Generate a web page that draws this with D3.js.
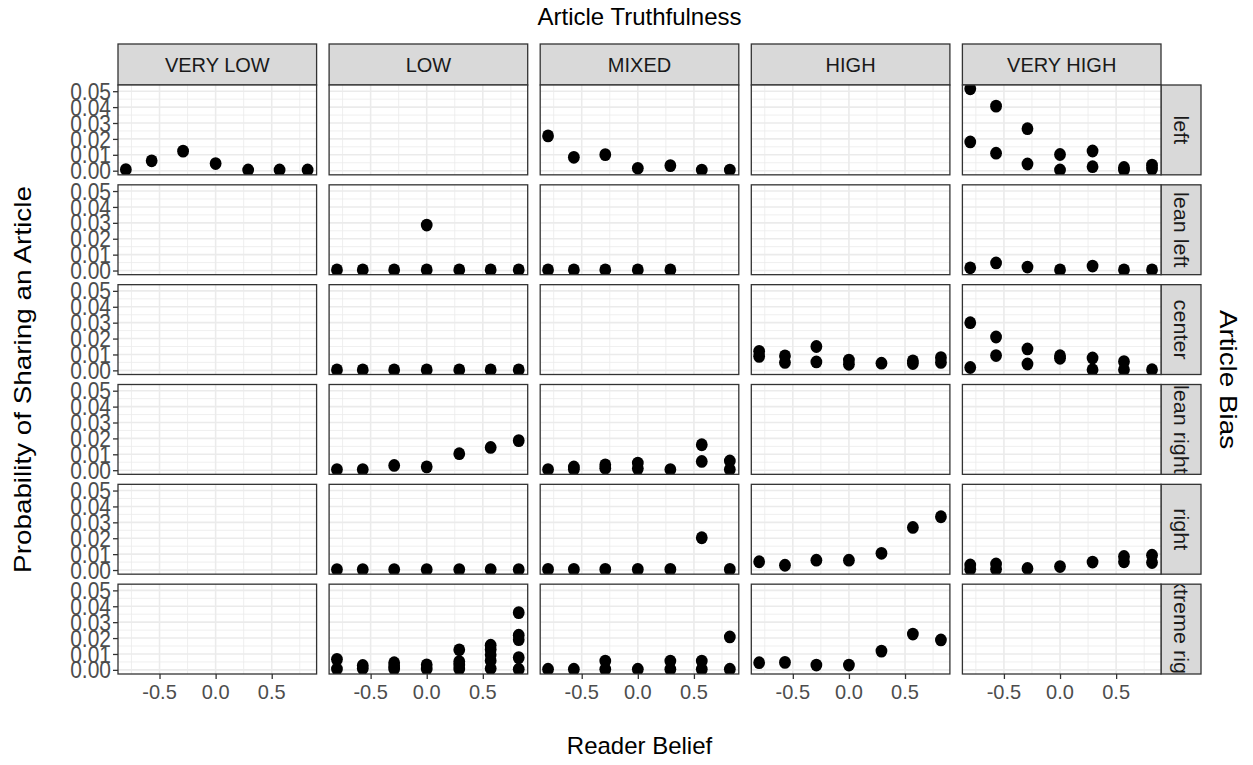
<!DOCTYPE html>
<html><head><meta charset="utf-8">
<script src="https://cdn.jsdelivr.net/npm/d3@7"></script>
<style>body{margin:0;background:#fff} svg{display:block} text{font-family:"Liberation Sans", Arial, Helvetica, sans-serif}</style>
</head><body><svg id="chart" width="1253" height="765"></svg>
<script>
const truthLevels = ["VERY LOW","LOW","MIXED","HIGH","VERY HIGH"];
const biasLevels = ["left","lean left","center","lean right","right","extreme right"];
const beliefLevels = [-0.80,-0.57,-0.29,0,0.29,0.57,0.82];
const xTicks = [-0.5,0,0.5];
const xMinor = [-0.75,-0.25,0.25,0.75];
const yTicks = [0,0.01,0.02,0.03,0.04,0.05];
const yMinor = [0.005,0.015,0.025,0.035,0.045];

// each series: one list of probabilities per belief level
const veryLowLeft  = [[0.0007],[0.0062],[0.0123],[0.0045],[0.0005],[0.0005],[0.0005]];
const mixedLeft    = [[0.0219],[0.0084],[0.0101],[0.0015],[0.0032],[0.0004],[0.0004]];
const veryHighLeft = [[0.0515,0.0181],[0.0406,0.0110],[0.0264,0.0042],[0.0102,0.0005],[0.0124,0.0025],[0.0020,0.0004],[0.0035,0.0010]];

const lowLeanLeft      = [[0.0004],[0.0004],[0.0004],[0.0004,0.0286],[0.0004],[0.0004],[0.0004]];
const mixedLeanLeft    = [[0.0004],[0.0004],[0.0004],[0.0004],[0.0004],[],[]];
const veryHighLeanLeft = [[0.0017],[0.0048],[0.0022],[0.0004],[0.0028],[0.0004],[0.0004]];

const lowCenter      = [[0.0003],[0.0003],[0.0003],[0.0003],[0.0003],[0.0003],[0.0003]];
const highCenter     = [[0.0120,0.0088],[0.0091,0.0050],[0.0150,0.0053],[0.0065,0.0038],[0.0045],[0.0060,0.0043],[0.0080,0.0050]];
const veryHighCenter = [[0.0300,0.0018],[0.0210,0.0093],[0.0135,0.0040],[0.0092,0.0076],[0.0078,0.0004],[0.0055,0.0004],[0.0004]];

const lowLeanRight   = [[0.0004],[0.0004],[0.0030],[0.0021],[0.0104],[0.0143],[0.0186]];
const mixedLeanRight = [[0.0004],[0.0020,0.0006],[0.0034,0.0012],[0.0045,0.0010],[0.0004],[0.0160,0.0055],[0.0058,0.0004]];

const lowRight      = [[0.0003],[0.0003],[0.0003],[0.0003],[0.0003],[0.0003],[0.0003]];
const mixedRight    = [[0.0004],[0.0004],[0.0004],[0.0004],[0.0004],[0.0203],[0.0004]];
const highRight     = [[0.0052],[0.0030],[0.0062],[0.0062],[0.0105],[0.0268],[0.0335]];
const veryHighRight = [[0.0032,0.0005],[0.0038,0.0005],[0.0010],[0.0022],[0.0050],[0.0085,0.0052],[0.0093,0.0047]];

const lowExtremeRight   = [[0.0066,0.0005],[0.0028,0.0008],[0.0045,0.0025,0.0006],[0.0032,0.0006],[0.0126,0.0052,0.0030,0.0006],[0.0155,0.0128,0.0095,0.0058,0.0008],[0.0360,0.0218,0.0190,0.0077,0.0004]];
const mixedExtremeRight = [[0.0004],[0.0004],[0.0055,0.0004],[0.0004],[0.0055,0.0004],[0.0055,0.0004],[0.0207,0.0004]];
const highExtremeRight  = [[0.0045],[0.0047],[0.0030],[0.0030],[0.0118],[0.0225],[0.0188]];

// grid of series: rows = bias, columns = truthfulness
const panelSeries = [
  [veryLowLeft, null, mixedLeft, null, veryHighLeft],
  [null, lowLeanLeft, mixedLeanLeft, null, veryHighLeanLeft],
  [null, lowCenter, null, highCenter, veryHighCenter],
  [null, lowLeanRight, mixedLeanRight, null, null],
  [null, lowRight, mixedRight, highRight, veryHighRight],
  [null, lowExtremeRight, mixedExtremeRight, highExtremeRight, null]
];

// ---- layout ----
const L = 118, R = 1161, T = 85, B = 674;
const gapX = 12.5, gapY = 10;
const pw = (R - L - gapX*4)/5;
const ph = (B - T - gapY*5)/6;
const stripH = 41, stripW = 40;
const ink = "#333333", tickCol = "#4D4D4D", grid = "#EBEBEB";

const svg = d3.select("#chart");
const x = d3.scaleLinear().domain([-0.87, 0.90]).range([0, pw]);
const y = d3.scaleLinear().domain([-0.0026, 0.0539]).range([ph, 0]);

const defs = svg.append("defs");
defs.append("clipPath").attr("id","pclip").append("rect").attr("width",pw).attr("height",ph);
defs.append("clipPath").attr("id","sclip").append("rect").attr("width",stripW).attr("height",ph);

function label(parent, tx, ty, txt, size, fill, k, rot, anchor) {
  return parent.append("text")
    .attr("transform",`translate(${tx},${ty}) scale(1,${k})` + (rot ? ` rotate(${rot})` : ""))
    .attr("text-anchor", anchor || "middle").attr("dy","0.36em")
    .attr("font-size",size).attr("fill",fill).text(txt);
}

// titles
label(svg,(L+R)/2,16,"Article Truthfulness",24,"#000",1.03);
label(svg,(L+R)/2,745,"Reader Belief",24,"#000",1.03);
label(svg,22,(T+B)/2,"Probability of Sharing an Article",24,"#000",1.16,-90);
label(svg,1229,(T+B)/2,"Article Bias",24,"#000",1.16,90);

// top strips
truthLevels.forEach((lab,c)=>{
  const gx = L + c*(pw+gapX);
  const g = svg.append("g").attr("transform",`translate(${gx},${T-stripH})`);
  g.append("rect").attr("width",pw).attr("height",stripH).attr("fill","#D9D9D9").attr("stroke",ink).attr("stroke-width",1.3);
  label(g,pw/2,stripH/2,lab,20,"#1A1A1A",1.04);
});

biasLevels.forEach((bias,r)=>{
  const gy = T + r*(ph+gapY);
  // right strip
  const s = svg.append("g").attr("transform",`translate(${R},${gy})`);
  s.append("rect").attr("width",stripW).attr("height",ph).attr("fill","#D9D9D9");
  label(s.append("g").attr("clip-path","url(#sclip)"),stripW/2,ph/2,bias,20,"#1A1A1A",1.08,90);
  s.append("rect").attr("width",stripW).attr("height",ph).attr("fill","none").attr("stroke",ink).attr("stroke-width",1.3);

  truthLevels.forEach((truth,c)=>{
    const gx = L + c*(pw+gapX);
    const g = svg.append("g").attr("transform",`translate(${gx},${gy})`);
    g.append("rect").attr("width",pw).attr("height",ph).attr("fill","#fff");
    // grid
    g.selectAll(".xm").data(xMinor).join("line").attr("x1",d=>x(d)).attr("x2",d=>x(d)).attr("y1",0).attr("y2",ph).attr("stroke",grid).attr("stroke-width",0.8);
    g.selectAll(".ym").data(yMinor).join("line").attr("y1",d=>y(d)).attr("y2",d=>y(d)).attr("x1",0).attr("x2",pw).attr("stroke",grid).attr("stroke-width",0.8);
    g.selectAll(".xM").data(xTicks).join("line").attr("x1",d=>x(d)).attr("x2",d=>x(d)).attr("y1",0).attr("y2",ph).attr("stroke",grid).attr("stroke-width",1.6);
    g.selectAll(".yM").data(yTicks).join("line").attr("y1",d=>y(d)).attr("y2",d=>y(d)).attr("x1",0).attr("x2",pw).attr("stroke",grid).attr("stroke-width",1.6);
    // points
    const series = panelSeries[r][c];
    if (series) {
      const pts = [];
      series.forEach((vals,i)=>vals.forEach(v=>pts.push({b:beliefLevels[i], p:v})));
      g.append("g").attr("clip-path","url(#pclip)").selectAll("ellipse").data(pts).join("ellipse")
        .attr("cx",d=>x(d.b)).attr("cy",d=>y(d.p)).attr("rx",5.9).attr("ry",6.4).attr("fill","#000");
    }
    g.append("rect").attr("width",pw).attr("height",ph).attr("fill","none").attr("stroke",ink).attr("stroke-width",1.3);
    // y axis on first column
    if (c===0) {
      const ya = g.append("g").call(d3.axisLeft(y).tickValues(yTicks).tickFormat("").tickSize(5));
      ya.select(".domain").remove();
      ya.selectAll("line").attr("stroke",ink).attr("stroke-width",1.3);
      yTicks.forEach(t=>label(g,-7,y(t),d3.format(".2f")(t),21,tickCol,1.14,0,"end"));
    }
    // x axis on bottom row
    if (r===biasLevels.length-1) {
      const xa = g.append("g").attr("transform",`translate(0,${ph})`).call(d3.axisBottom(x).tickValues(xTicks).tickFormat("").tickSize(5));
      xa.select(".domain").remove();
      xa.selectAll("line").attr("stroke",ink).attr("stroke-width",1.3);
      xTicks.forEach(t=>label(g,x(t),ph+17,d3.format(".1f")(t).replace("\u2212","-"),20,tickCol,1.05));
    }
  });
});
</script></body></html>
